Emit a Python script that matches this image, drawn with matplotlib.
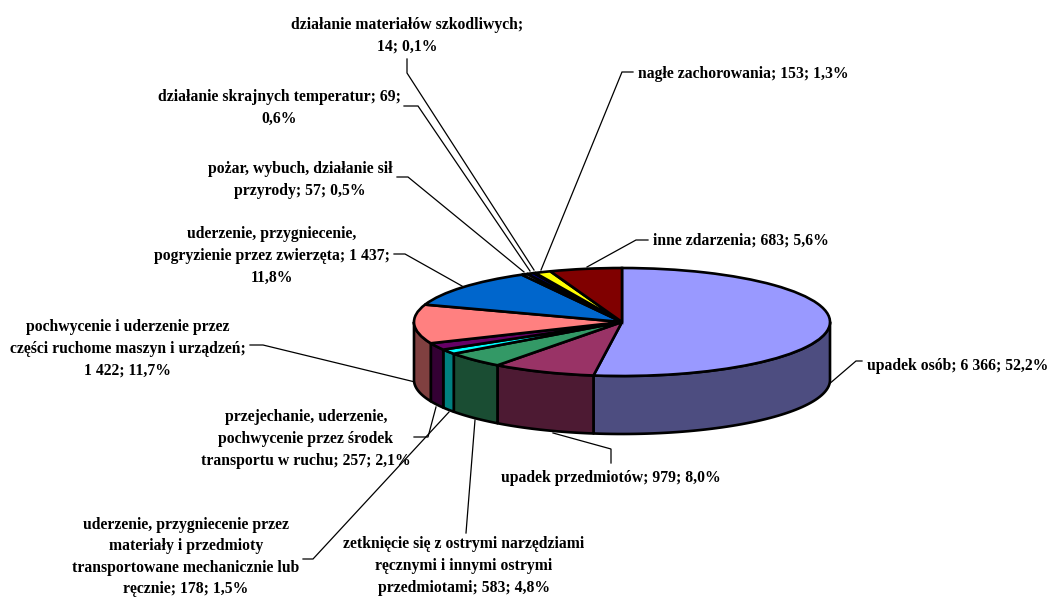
import numpy as np
import matplotlib
matplotlib.use("Agg")
import matplotlib.pyplot as plt
from matplotlib.colors import to_rgb
from matplotlib.patches import Polygon

W, H = 1052, 597

values = [6366, 979, 583, 178, 257, 1422, 1437, 57, 69, 14, 153, 683]
colors = ["#9999FF", "#993366", "#339966", "#00FFFF", "#660066", "#FF8080",
          "#0066CC", "#CCCCFF", "#000080", "#FF00FF", "#FFFF00", "#800000"]

labels = [
    "upadek osób; 6 366; 52,2%",
    "upadek przedmiotów; 979; 8,0%",
    "zetknięcie się z ostrymi narzędziami\nręcznymi i innymi ostrymi\nprzedmiotami; 583; 4,8%",
    "uderzenie, przygniecenie przez\nmateriały i przedmioty\ntransportowane mechanicznie lub\nręcznie; 178; 1,5%",
    "przejechanie, uderzenie,\npochwycenie przez środek\ntransportu w ruchu; 257; 2,1%",
    "pochwycenie i uderzenie przez\nczęści ruchome maszyn i urządzeń;\n1 422; 11,7%",
    "uderzenie, przygniecenie,\npogryzienie przez zwierzęta; 1 437;\n11,8%",
    "pożar, wybuch, działanie sił\nprzyrody; 57; 0,5%",
    "działanie skrajnych temperatur; 69;\n0,6%",
    "działanie materiałów szkodliwych;\n14; 0,1%",
    "nagłe zachorowania; 153; 1,3%",
    "inne zdarzenia; 683; 5,6%",
]
# label anchor in pixels
label_pos = [(958, 366), (611, 478), (464, 566), (186, 557), (306, 439), (128, 349),
             (272, 256), (300, 180), (279, 108), (407, 36), (743, 74), (741, 241)]
# leader lines in pixels, from the pie outwards
leaders = [
    [(828, 385), (856, 361), (862, 361)],
    [(553, 433), (611, 449), (611, 463)],
    [(475, 420), (466, 533)],
    [(449, 412), (313, 559), (303, 559)],
    [(436, 407), (428, 437), (414, 437)],
    [(415, 382), (263, 345), (250, 345)],
    [(462, 286), (405, 254), (394, 254)],
    [(524, 272), (408, 177), (397, 177)],
    [(530, 271), (418, 106), (404, 106)],
    [(534, 270), (407, 73), (407, 59)],
    [(541, 270), (622, 72), (633, 72)],
    [(587, 267), (636, 240), (648, 240)],
]

CX, CY, RX, RY = 622, 322, 208, 54
DEPTH = 58
EDGE = 1.9

plt.rcParams["font.family"] = ["Liberation Serif", "DejaVu Serif"]

fig = plt.figure(figsize=(W / 100, H / 100), dpi=100, facecolor="white")

ax = fig.add_axes([(CX - RX) / W, 1 - (CY + RY) / H, 2 * RX / W, 2 * RY / H])
ax.pie(values, colors=colors, startangle=90, counterclock=False, radius=1,
       wedgeprops={"edgecolor": "black", "linewidth": EDGE, "zorder": 3, "clip_on": False})
ax.set_aspect("auto")
ax.set_xlim(-1, 1)
ax.set_ylim(-1, 1)

# side wall, only the front half of the rim can be seen
drop = 2 * DEPTH / (2 * RY)
edges = np.cumsum([0] + values) / sum(values) * 2 * np.pi
for i, col in enumerate(colors):
    a0 = max(edges[i], np.pi / 2)
    a1 = min(edges[i + 1], 3 * np.pi / 2)
    if a1 <= a0:
        continue
    t = np.linspace(a0, a1, 60)
    x, y = np.sin(t), np.cos(t)
    pts = np.r_[np.c_[x, y], np.c_[x, y - drop][::-1]]
    dark = tuple(c * 0.5 for c in to_rgb(col))
    ax.add_patch(Polygon(pts, closed=True, facecolor=dark, edgecolor="black",
                         linewidth=EDGE, zorder=2, clip_on=False, joinstyle="round"))

# leaders and labels live in a pixel space overlay
over = fig.add_axes([0, 0, 1, 1], zorder=-1)
over.set_xlim(0, W)
over.set_ylim(H, 0)
over.axis("off")
for line in leaders:
    xs, ys = zip(*line)
    over.plot(xs, ys, color="black", lw=0.9, solid_joinstyle="miter")
for text, (x, y) in zip(labels, label_pos):
    over.text(x, y, text, ha="center", va="center", multialignment="center",
              fontsize=11.3, fontweight="bold", color="black", linespacing=1.47)

fig.savefig("out.png", dpi=100)
